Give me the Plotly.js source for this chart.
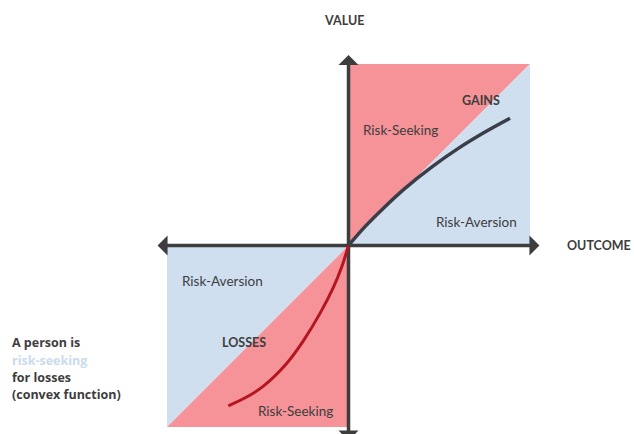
<!DOCTYPE html>
<html>
<head>
<meta charset="utf-8">
<script src="https://cdn.plot.ly/plotly-3.0.1.min.js"></script>
<style>html,body{margin:0;padding:0;background:#fff}</style>
</head>
<body>
<div id="chart" style="width:634px;height:434px"></div>
<script>
// ---- data ----
const gainsX = [0, 0.091, 0.201, 0.311, 0.458, 0.605, 0.752, 0.890];
const gainsY = [0, 0.104, 0.214, 0.315, 0.432, 0.535, 0.625, 0.701];
const lossesX = [0, -0.037, -0.084, -0.157, -0.249, -0.341, -0.469, -0.561, -0.662];
const lossesY = [0, -0.117, -0.232, -0.374, -0.525, -0.650, -0.775, -0.835, -0.883];
const regionLabels = ["Risk-Seeking", "Risk-Aversion", "Risk-Aversion", "Risk-Seeking"];
const quadrantLabels = ["GAINS", "LOSSES"];
const axisLabels = ["VALUE", "OUTCOME"];
const noteLines = ["A person is", "risk-seeking", "for losses", "(convex function)"];

// ---- geometry ----
const W = 634, H = 434;
const ox = 348.5, oy = 245.5, unit = 181.5;
const xr = [-ox / unit, (W - ox) / unit];
const yr = [-(H - oy) / unit, oy / unit];
const px = x => x / W;           // pixel -> paper
const py = y => 1 - y / H;

const RED = '#f59398', BLUE = '#d0dff0', AX = '#3d3d3d';
const traces = [];
function poly(xs, ys, color) {
  traces.push({x: xs, y: ys, mode: 'lines', fill: 'toself', fillcolor: color,
    line: {width: 0, color: color}, hoverinfo: 'skip'});
}
// quadrant squares split by diagonal
poly([0, 0, 1, 0], [0, 1, 1, 0], RED);
poly([0, 1, 1, 0], [0, 0, 1, 0], BLUE);
poly([0, -1, -1, 0], [0, 0, -1, 0], BLUE);
poly([0, 0, -1, 0], [0, -1, -1, 0], RED);

// axes
const ah = 10 / unit, aw = 10 / unit;
const xL = -1.052, xR = 1.052, yT = 1.05, yB = -1.075;
traces.push({x: [xL + ah * 0.5, xR - ah * 0.5], y: [0, 0], mode: 'lines', line: {color: AX, width: 3.5}, hoverinfo: 'skip'});
traces.push({x: [0, 0], y: [yB + ah * 0.5, yT - ah * 0.5], mode: 'lines', line: {color: AX, width: 3.5}, hoverinfo: 'skip'});
function head(xs, ys) {
  traces.push({x: xs, y: ys, mode: 'lines', fill: 'toself', fillcolor: AX, line: {width: 0, color: AX}, hoverinfo: 'skip'});
}
head([xR, xR - ah, xR - ah, xR], [0, aw, -aw, 0]);
head([xL, xL + ah, xL + ah, xL], [0, aw, -aw, 0]);
head([0, aw, -aw, 0], [yT, yT - ah, yT - ah, yT]);
head([0, aw, -aw, 0], [yB, yB + ah, yB + ah, yB]);

// value curves
traces.push({x: gainsX, y: gainsY, mode: 'lines', line: {color: '#3a3e48', width: 3.5, shape: 'spline', smoothing: 1}, hoverinfo: 'skip'});
traces.push({x: lossesX, y: lossesY, mode: 'lines', line: {color: '#b3161f', width: 3, shape: 'spline', smoothing: 1}, hoverinfo: 'skip'});

const FONT = 'Lato, "Open Sans", sans-serif';
function ann(text, x, y, opts) {
  return Object.assign({text: text, xref: 'paper', yref: 'paper', x: px(x), y: py(y),
    xanchor: 'center', yanchor: 'middle', showarrow: false,
    font: {family: FONT, size: 13.5, color: '#3d3d3d'}}, opts || {});
}
const boldFont = {family: FONT, size: 12.5, color: '#3d3d3d', weight: 'bold'};
const annotations = [
  ann('<b>' + axisLabels[0] + '</b>', 344, 20, {font: boldFont}),
  ann('<b>' + axisLabels[1] + '</b>', 599, 245, {font: boldFont}),
  ann('<b>' + quadrantLabels[0] + '</b>', 481, 100, {font: boldFont}),
  ann('<b>' + quadrantLabels[1] + '</b>', 244, 342.5, {font: boldFont}),
  ann(regionLabels[0], 400, 130),
  ann(regionLabels[1], 476, 221.5),
  ann(regionLabels[2], 222, 281),
  ann(regionLabels[3], 295, 411),
];
const noteY = [342.5, 360, 377, 394];
noteLines.forEach((t, i) => {
  annotations.push(ann('<b>' + t + '</b>', 10, noteY[i], {xanchor: 'left',
    font: {family: '"Open Sans", sans-serif', size: 12.5, color: i === 1 ? '#c9dbef' : '#3d3d3d', weight: 'bold'}}));
});

const layout = {
  width: W, height: H, autosize: false,
  margin: {l: 0, r: 0, t: 0, b: 0, pad: 0},
  paper_bgcolor: '#ffffff', plot_bgcolor: '#ffffff',
  showlegend: false, hovermode: false,
  xaxis: {range: xr, visible: false, fixedrange: true},
  yaxis: {range: yr, visible: false, fixedrange: true},
  annotations: annotations
};
Plotly.newPlot('chart', traces, layout, {staticPlot: true, displayModeBar: false});
</script>
</body>
</html>
